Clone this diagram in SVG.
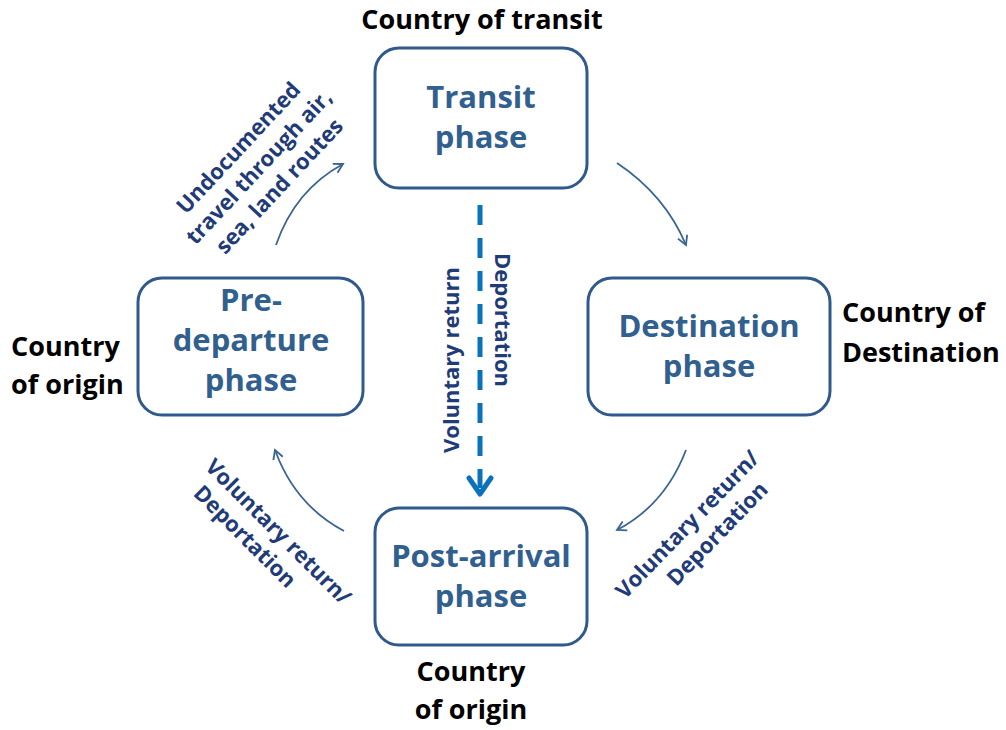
<svg xmlns="http://www.w3.org/2000/svg" width="1006" height="730" viewBox="0 0 1006 730">
<defs>
<style>
.box{fill:#fff;stroke:#2f5a8b;stroke-width:3}
.bt{font-family:"Open Sans","Liberation Sans",sans-serif;font-weight:bold;font-size:31px;fill:#31608f;text-anchor:middle}
.lab{font-family:"Open Sans","Liberation Sans",sans-serif;font-weight:bold;font-size:27px;fill:#000}
.el{font-family:"Open Sans","Liberation Sans",sans-serif;font-weight:bold;font-size:22px;fill:#1f3b78;text-anchor:middle}
.curve{fill:none;stroke:#3a6591;stroke-width:1.8;marker-end:url(#ah)}
</style>
<marker id="ah" viewBox="0 0 12 12" refX="10" refY="6" markerWidth="12" markerHeight="12" markerUnits="userSpaceOnUse" orient="auto">
<path d="M1,1 L10,6 L1,11" fill="none" stroke="#3a6591" stroke-width="1.8"/>
</marker>
</defs>
<rect width="1006" height="730" fill="#fff"/>
<g id="connectors">
<path class="curve" d="M276,245 Q295,190 343,164"/>
<path class="curve" d="M617,163 Q665,195 686,245"/>
<path class="curve" d="M686,450 Q665,505 617,530"/>
<path class="curve" d="M344,531 Q295,505 275,450"/>
<line x1="480" y1="205" x2="480" y2="488" stroke="#0a72bd" stroke-width="5" stroke-dasharray="20,13"/>
<path d="M469,478 L480,494 L491,478" fill="none" stroke="#0a72bd" stroke-width="5" stroke-linecap="round" stroke-linejoin="round"/>
<text class="el" transform="translate(459,360) rotate(-90)">Voluntary return</text>
<text class="el" transform="translate(495,320) rotate(90)">Deportation</text>
<g transform="translate(260,168) rotate(-47)">
<text class="el" x="0" y="-22">Undocumented</text>
<text class="el" x="0" y="6">travel through air,</text>
<text class="el" x="0" y="34">sea, land routes</text>
</g>
<g transform="translate(263,527) rotate(45)">
<text class="el" x="14" y="0">Voluntary return/</text>
<text class="el" x="-6" y="27">Deportation</text>
</g>
<g transform="translate(700,531) rotate(-46)">
<text class="el" x="-4" y="-6">Voluntary return/</text>
<text class="el" x="10" y="22">Deportation</text>
</g>
</g>
<g id="transit">
<rect class="box" x="375" y="48" width="212" height="140" rx="24"/>
<text class="bt" x="481" y="108">Transit</text>
<text class="bt" x="481" y="148">phase</text>
</g>
<g id="destination">
<rect class="box" x="588" y="278" width="242" height="137" rx="24"/>
<text class="bt" x="709" y="337">Destination</text>
<text class="bt" x="709" y="377">phase</text>
</g>
<g id="predeparture">
<rect class="box" x="138" y="278" width="225" height="137" rx="24"/>
<text class="bt" x="251" y="311">Pre-</text>
<text class="bt" x="251" y="351">departure</text>
<text class="bt" x="251" y="391">phase</text>
</g>
<g id="postarrival">
<rect class="box" x="375" y="508" width="212" height="137" rx="24"/>
<text class="bt" x="481" y="567">Post-arrival</text>
<text class="bt" x="481" y="607">phase</text>
</g>
<g id="labels">
<text class="lab" x="482" y="29" text-anchor="middle">Country of transit</text>
<text class="lab" x="842" y="322">Country of</text>
<text class="lab" x="842" y="362">Destination</text>
<text class="lab" x="11" y="356">Country</text>
<text class="lab" x="11" y="394">of origin</text>
<text class="lab" x="471" y="681" text-anchor="middle">Country</text>
<text class="lab" x="471" y="719" text-anchor="middle">of origin</text>
</g>
</svg>
